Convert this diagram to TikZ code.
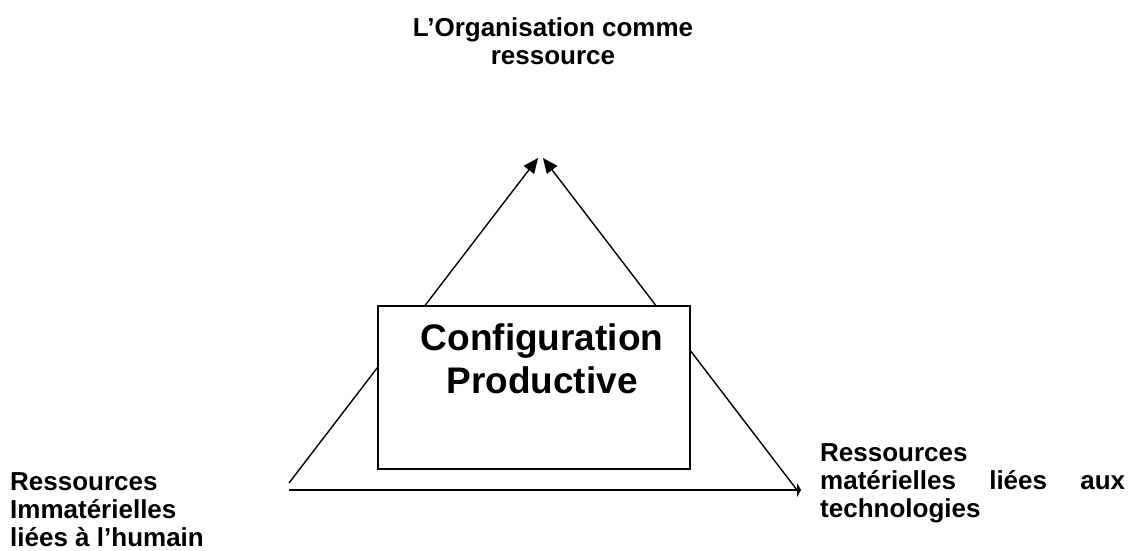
\documentclass[tikz,border=0pt]{standalone}
\usepackage{fontspec}
\setmainfont{Liberation Sans}
\usetikzlibrary{arrows.meta}
\begin{document}
\begin{tikzpicture}[x=1pt,y=-1pt,
  conn/.style={line width=1.4pt},
  lbl/.style={inner sep=0pt,font=\bfseries\fontsize{26}{28}\selectfont},
  boxtxt/.style={font=\bfseries\fontsize{37}{43}\selectfont}]
\useasboundingbox (0,0) rectangle (1135,551);
% vertices
\coordinate (apexL) at (538,158);
\coordinate (apexR) at (543,158);
\coordinate (bl) at (289,483);
\coordinate (blh) at (289,490);
\coordinate (br) at (797,490);
\coordinate (brh) at (801,490);
% connectors
\draw[conn,-{Triangle[length=15pt,width=13pt]}] (bl) -- (apexL);
\draw[conn,-{Triangle[length=15pt,width=13pt]}] (br) -- (apexR);
\draw[conn,-{Triangle[length=4pt,width=14pt]}] (blh) -- (brh);
% central box
\draw[line width=1.4pt,fill=white] (378,306) rectangle (690,469);
\node[boxtxt,anchor=base,inner sep=0pt] (c1) at (542,350) {Configuration};
\node[boxtxt,anchor=base,inner sep=0pt] (c2) at (542,393) {Productive};
% labels
\node[lbl,anchor=base] (t1) at (553,37) {L’Organisation comme};
\node[lbl,anchor=base] (t2) at (553,65) {ressource};
\node[lbl,anchor=base west] (l1) at (10,490) {Ressources};
\node[lbl,anchor=base west] (l2) at (10,518) {Immatérielles};
\node[lbl,anchor=base west] (l3) at (10,546) {liées à l’humain};
\node[lbl,anchor=base west] (r1) at (820,461) {Ressources};
\node[lbl,anchor=base west] (r2) at (820,489) {\hbox to 305pt{matérielles\hfill liées\hfill aux}};
\node[lbl,anchor=base west] (r3) at (820,517) {technologies};
\end{tikzpicture}
\end{document}
